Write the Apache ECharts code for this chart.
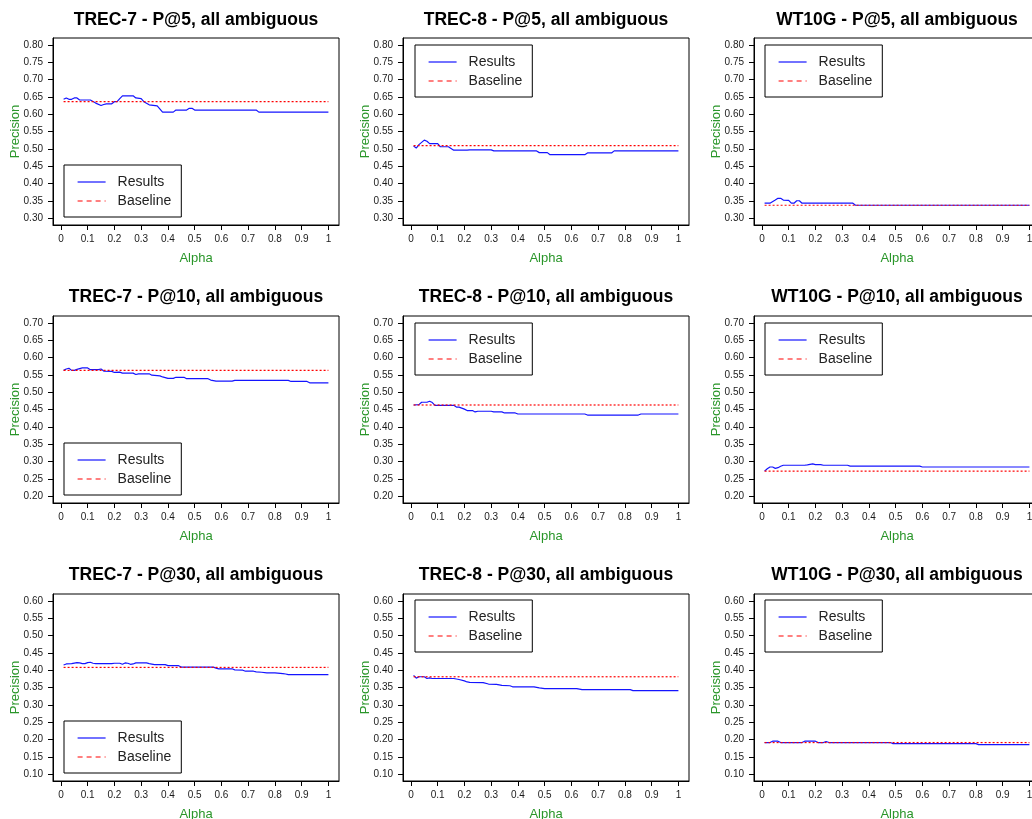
<!DOCTYPE html>
<html><head><meta charset="utf-8">
<script src="https://cdn.jsdelivr.net/npm/echarts@6/dist/echarts.min.js"></script>
<style>html,body{margin:0;padding:0;background:#fff}#c{width:1032px;height:819px}</style>
</head><body><div id="c"></div><script>
// ---------------- data ----------------
const alphaTicks = [0, 0.1, 0.2, 0.3, 0.4, 0.5, 0.6, 0.7, 0.8, 0.9, 1];
const p5Ticks  = [0.30, 0.35, 0.40, 0.45, 0.50, 0.55, 0.60, 0.65, 0.70, 0.75, 0.80];
const p10Ticks = [0.20, 0.25, 0.30, 0.35, 0.40, 0.45, 0.50, 0.55, 0.60, 0.65, 0.70];
const p30Ticks = [0.10, 0.15, 0.20, 0.25, 0.30, 0.35, 0.40, 0.45, 0.50, 0.55, 0.60];

const trec7_p5_alpha   = [0.01,0.02,0.03,0.04,0.05,0.06,0.07,0.11,0.13,0.15,0.16,0.17,0.19,0.20,0.21,0.22,0.23,0.27,0.28,0.30,0.31,0.33,0.36,0.38,0.42,0.43,0.47,0.48,0.49,0.50,0.73,0.74,1.00];
const trec7_p5_results = [0.643,0.647,0.643,0.643,0.647,0.647,0.641,0.641,0.632,0.625,0.628,0.630,0.630,0.636,0.636,0.645,0.653,0.653,0.647,0.645,0.636,0.627,0.624,0.606,0.606,0.612,0.612,0.617,0.617,0.612,0.612,0.606,0.606];
const trec7_p5_baseline = 0.636;

const trec8_p5_alpha   = [0.01,0.02,0.03,0.05,0.06,0.07,0.10,0.11,0.14,0.16,0.21,0.22,0.30,0.31,0.47,0.48,0.51,0.52,0.65,0.66,0.75,0.76,1.00];
const trec8_p5_results = [0.508,0.502,0.512,0.525,0.522,0.515,0.515,0.506,0.506,0.496,0.496,0.497,0.497,0.494,0.494,0.489,0.489,0.483,0.483,0.488,0.488,0.494,0.494];
const trec8_p5_baseline = 0.509;

const wt10g_p5_alpha   = [0.01,0.03,0.05,0.06,0.07,0.08,0.10,0.11,0.12,0.13,0.14,0.15,0.34,0.35,1.00];
const wt10g_p5_results = [0.343,0.343,0.352,0.357,0.357,0.352,0.351,0.343,0.343,0.350,0.350,0.343,0.343,0.337,0.337];
const wt10g_p5_baseline = 0.337;

const trec7_p10_alpha   = [0.01,0.02,0.03,0.04,0.05,0.06,0.08,0.10,0.11,0.14,0.15,0.16,0.19,0.20,0.22,0.23,0.27,0.28,0.29,0.33,0.34,0.37,0.38,0.40,0.42,0.43,0.46,0.47,0.55,0.56,0.58,0.64,0.65,0.85,0.86,0.92,0.93,1.00];
const trec7_p10_results = [0.563,0.567,0.569,0.563,0.563,0.566,0.570,0.570,0.565,0.565,0.567,0.561,0.560,0.557,0.558,0.555,0.555,0.551,0.553,0.553,0.549,0.547,0.544,0.540,0.540,0.543,0.543,0.539,0.539,0.535,0.532,0.532,0.534,0.534,0.531,0.531,0.527,0.527];
const trec7_p10_baseline = 0.563;

const trec8_p10_alpha   = [0.01,0.03,0.04,0.06,0.07,0.08,0.09,0.16,0.17,0.18,0.20,0.21,0.23,0.24,0.25,0.30,0.31,0.34,0.35,0.39,0.40,0.65,0.66,0.85,0.86,1.00];
const trec8_p10_results = [0.463,0.464,0.471,0.471,0.474,0.470,0.462,0.462,0.457,0.457,0.451,0.447,0.447,0.443,0.445,0.445,0.443,0.443,0.440,0.440,0.437,0.437,0.434,0.434,0.437,0.437];
const trec8_p10_baseline = 0.463;

const wt10g_p10_alpha   = [0.01,0.02,0.03,0.04,0.05,0.06,0.07,0.08,0.16,0.17,0.19,0.20,0.22,0.23,0.32,0.33,0.59,0.60,1.00];
const wt10g_p10_results = [0.272,0.279,0.284,0.284,0.280,0.282,0.286,0.289,0.289,0.290,0.293,0.291,0.291,0.289,0.289,0.2865,0.2865,0.284,0.284];
const wt10g_p10_baseline = 0.272;

const trec7_p30_alpha   = [0.01,0.02,0.04,0.06,0.07,0.08,0.09,0.10,0.11,0.12,0.13,0.19,0.20,0.22,0.23,0.24,0.25,0.26,0.27,0.28,0.32,0.33,0.35,0.39,0.40,0.44,0.45,0.57,0.58,0.59,0.64,0.65,0.68,0.69,0.72,0.73,0.75,0.77,0.80,0.83,0.84,0.85,1.00];
const trec7_p30_results = [0.415,0.418,0.419,0.422,0.421,0.419,0.419,0.422,0.423,0.420,0.419,0.419,0.420,0.420,0.417,0.421,0.420,0.417,0.418,0.421,0.421,0.419,0.416,0.416,0.413,0.413,0.409,0.409,0.406,0.404,0.404,0.401,0.400,0.397,0.397,0.395,0.394,0.392,0.392,0.390,0.389,0.387,0.387];
const trec7_p30_baseline = 0.408;

const trec8_p30_alpha   = [0.01,0.02,0.03,0.05,0.06,0.07,0.08,0.16,0.18,0.20,0.21,0.22,0.27,0.29,0.32,0.34,0.37,0.38,0.46,0.48,0.50,0.62,0.64,0.82,0.83,1.00];
const trec8_p30_results = [0.385,0.377,0.381,0.381,0.376,0.378,0.376,0.376,0.373,0.369,0.366,0.365,0.364,0.360,0.359,0.356,0.355,0.352,0.352,0.349,0.347,0.347,0.344,0.344,0.341,0.341];
const trec8_p30_baseline = 0.381;

const wt10g_p30_alpha   = [0.01,0.03,0.04,0.06,0.07,0.15,0.16,0.20,0.21,0.23,0.24,0.25,0.48,0.49,0.80,0.81,1.00];
const wt10g_p30_results = [0.191,0.191,0.195,0.195,0.191,0.191,0.195,0.195,0.191,0.191,0.194,0.191,0.191,0.188,0.188,0.185,0.185];
const wt10g_p30_baseline = 0.191;

const titles = [
  'TREC-7 - P@5, all ambiguous', 'TREC-8 - P@5, all ambiguous', 'WT10G - P@5, all ambiguous',
  'TREC-7 - P@10, all ambiguous', 'TREC-8 - P@10, all ambiguous', 'WT10G - P@10, all ambiguous',
  'TREC-7 - P@30, all ambiguous', 'TREC-8 - P@30, all ambiguous', 'WT10G - P@30, all ambiguous'
];

// ---------------- panels ----------------
const panels = [
  {alpha: trec7_p5_alpha,  res: trec7_p5_results,  base: trec7_p5_baseline,  ticks: p5Ticks},
  {alpha: trec8_p5_alpha,  res: trec8_p5_results,  base: trec8_p5_baseline,  ticks: p5Ticks},
  {alpha: wt10g_p5_alpha,  res: wt10g_p5_results,  base: wt10g_p5_baseline,  ticks: p5Ticks},
  {alpha: trec7_p10_alpha, res: trec7_p10_results, base: trec7_p10_baseline, ticks: p10Ticks},
  {alpha: trec8_p10_alpha, res: trec8_p10_results, base: trec8_p10_baseline, ticks: p10Ticks},
  {alpha: wt10g_p10_alpha, res: wt10g_p10_results, base: wt10g_p10_baseline, ticks: p10Ticks},
  {alpha: trec7_p30_alpha, res: trec7_p30_results, base: trec7_p30_baseline, ticks: p30Ticks},
  {alpha: trec8_p30_alpha, res: trec8_p30_results, base: trec8_p30_baseline, ticks: p30Ticks},
  {alpha: wt10g_p30_alpha, res: wt10g_p30_results, base: wt10g_p30_baseline, ticks: p30Ticks}
];

// ---------------- layout ----------------
const FONT = "'Liberation Sans', Arial, Helvetica, sans-serif";
const colLeft = [53, 403, 754];
const rowTop = [38, 316, 594];
const plotW = 286, plotH = 187;
const titleTop = [11, 288, 566];
const legendPos = [
  [64, 165], [415, 45], [765, 45],
  [64, 443], [415, 323], [765, 323],
  [64, 721], [415, 600], [765, 600]
];
const GREEN = '#2a962a';
const BLUE = '#1414ff';
const RED = '#ff0000';

const option = {
  animation: false,
  backgroundColor: '#fff',
  title: [], grid: [], xAxis: [], yAxis: [], series: [], legend: []
};

panels.forEach((p, i) => {
  const r = Math.floor(i / 3), c = i % 3;
  const lo = p.ticks[0], hi = p.ticks[p.ticks.length - 1];
  const xSpan = p.alpha[p.alpha.length - 1] - p.alpha[0];
  option.title.push({
    text: titles[i],
    left: colLeft[c] + plotW / 2, top: titleTop[r], textAlign: 'center', padding: 0,
    textStyle: {fontFamily: FONT, fontSize: 17.5, fontWeight: 'bold', color: '#000'}
  });
  option.grid.push({
    left: colLeft[c], top: rowTop[r], width: plotW, height: plotH,
    show: true, borderColor: '#000', borderWidth: 1, backgroundColor: 'transparent',
    containLabel: false, outerBoundsMode: 'none'
  });
  option.xAxis.push({
    type: 'value', gridIndex: i,
    min: p.alpha[0] - 0.04 * xSpan, max: p.alpha[p.alpha.length - 1] + 0.04 * xSpan,
    name: 'Alpha', nameLocation: 'middle', nameGap: 27, nameMoveOverlap: false,
    nameTextStyle: {fontFamily: FONT, fontSize: 13, color: GREEN},
    axisLine: {show: true, onZero: false, lineStyle: {color: '#000', width: 1}},
    axisTick: {show: true, length: 5, inside: false, customValues: alphaTicks, lineStyle: {color: '#000'}},
    axisLabel: {customValues: alphaTicks, margin: 9, fontFamily: FONT, fontSize: 10, color: '#1a1a1a',
      formatter: v => (v === 0 ? '0' : v === 1 ? '1' : v.toFixed(1))},
    splitLine: {show: false}
  });
  option.yAxis.push({
    type: 'value', gridIndex: i,
    min: lo - 0.04 * (hi - lo), max: hi + 0.04 * (hi - lo),
    name: 'Precision', nameLocation: 'middle', nameGap: 31, nameRotate: 90, nameMoveOverlap: false,
    nameTextStyle: {fontFamily: FONT, fontSize: 13, color: GREEN},
    axisLine: {show: true, onZero: false, lineStyle: {color: '#000', width: 1}},
    axisTick: {show: true, length: 5, inside: false, customValues: p.ticks, lineStyle: {color: '#000'}},
    axisLabel: {customValues: p.ticks, margin: 10, fontFamily: FONT, fontSize: 10, color: '#1a1a1a',
      formatter: v => v.toFixed(2)},
    splitLine: {show: false}
  });
  option.series.push({
    name: 'Results', type: 'line', xAxisIndex: i, yAxisIndex: i,
    data: p.alpha.map((a, k) => [a, p.res[k]]),
    symbol: 'none', silent: true, z: 2,
    lineStyle: {color: BLUE, width: 1.2}, itemStyle: {color: BLUE}
  });
  option.series.push({
    name: 'Baseline', type: 'line', xAxisIndex: i, yAxisIndex: i,
    data: [[p.alpha[0], p.base], [p.alpha[p.alpha.length - 1], p.base]],
    symbol: 'none', silent: true, z: 3,
    lineStyle: {color: RED, width: 1.2, type: [2, 2]}, itemStyle: {color: RED}
  });
  option.legend.push({
    orient: 'vertical', left: legendPos[i][0], top: legendPos[i][1],
    selectedMode: false,
    data: [
      {name: 'Results', lineStyle: {color: BLUE, width: 1.2, type: 'solid'},
        itemStyle: {color: 'rgba(0,0,0,0)', borderWidth: 0, opacity: 0}},
      {name: 'Baseline', lineStyle: {color: RED, width: 1.2, type: [5, 4]},
        itemStyle: {color: 'rgba(0,0,0,0)', borderWidth: 0, opacity: 0}}
    ],
    itemWidth: 28, itemHeight: 14, itemGap: 5,
    padding: [10, 10, 9, 13],
    borderColor: '#000', borderWidth: 1, backgroundColor: '#fff',
    textStyle: {fontFamily: FONT, fontSize: 14, color: '#222', padding: [0, 0, 0, 7]}
  });
});

const chart = echarts.init(document.getElementById('c'), null, {renderer: 'canvas'});
chart.setOption(option);
</script></body></html>
